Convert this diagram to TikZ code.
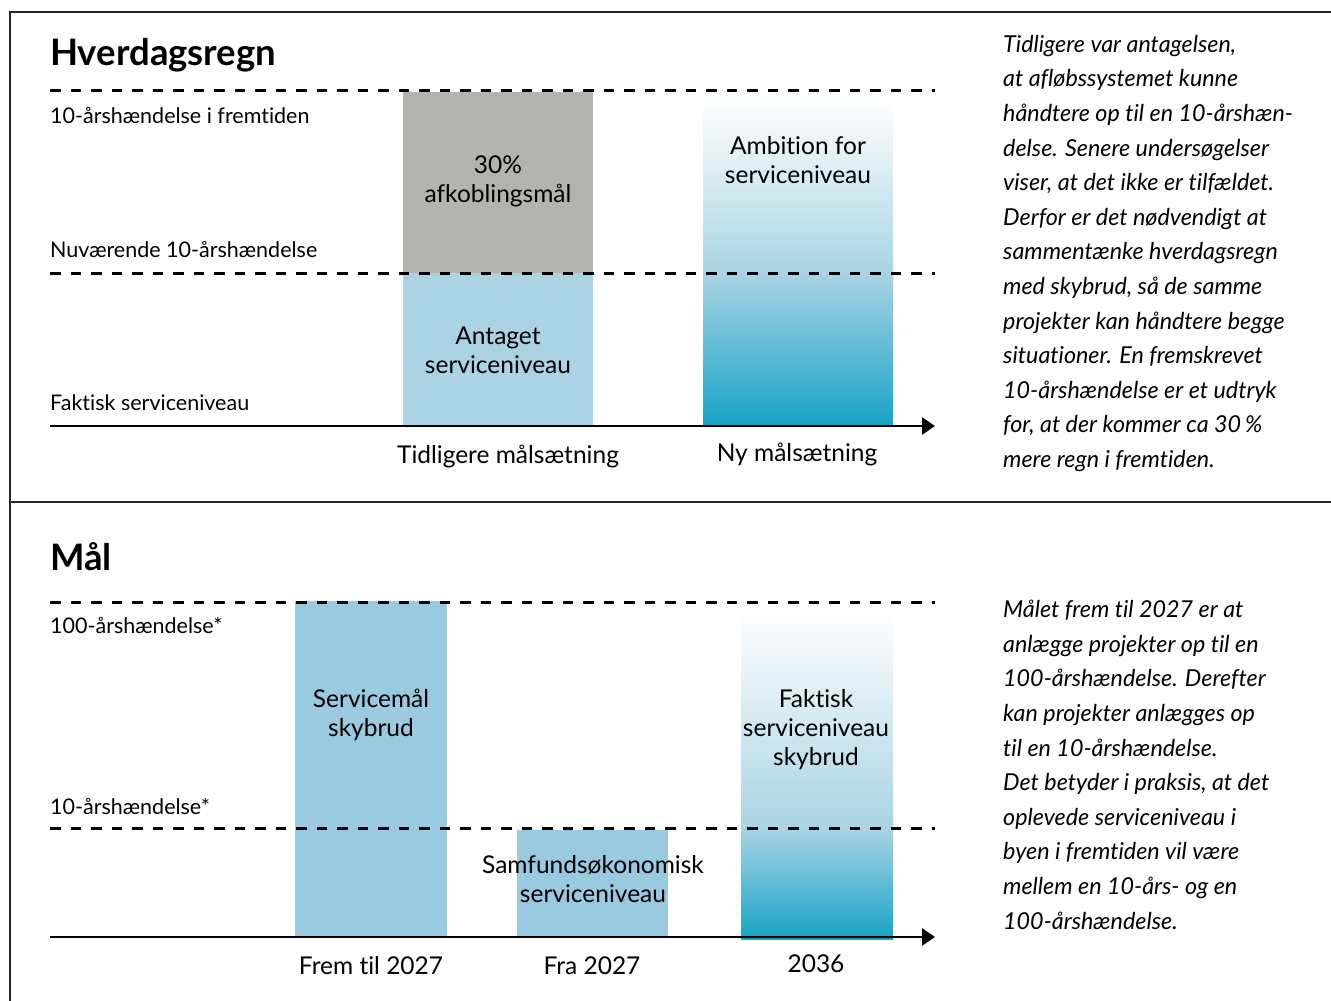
\documentclass[tikz,border=0pt]{standalone}
\usepackage{fontspec}
\setmainfont{Lato}[Ligatures=NoCommon]
\usetikzlibrary{arrows.meta}
\definecolor{barGray}{HTML}{B3B4AF}
\definecolor{barLight}{HTML}{ABD3E3}
\definecolor{barMid}{HTML}{99CADF}
\definecolor{barDeep}{HTML}{17A3C7}
\definecolor{gradMid}{HTML}{A9D4E4}
\tikzset{
  frame/.style={line width=1.6pt, draw=black!85},
  level/.style={line width=3pt, dash pattern=on 10.5pt off 10pt},
  axis/.style={line width=2.8pt, -{Triangle[length=13pt,width=17pt]}},
  lefttxt/.style={anchor=west, inner sep=0pt, font=\fontsize{21.5}{24}\selectfont},
  bartxt/.style={align=center, inner sep=0pt, font=\fontsize{24.5}{29}\selectfont},
  headtxt/.style={anchor=west, inner sep=0pt, font=\fontsize{36.5}{40}\bfseries\selectfont},
  sidetxt/.style={anchor=north west, align=left, inner sep=0pt, font=\fontsize{23.3}{34.6}\itshape\selectfont}
}
\begin{document}
\begin{tikzpicture}[x=1pt,y=-1pt]
\useasboundingbox (0,0) rectangle (1331,1001);
% frame
\coordinate (fTR) at (1331,12);
\coordinate (fTL) at (10,12);
\coordinate (fBL) at (10,1001);
\coordinate (fML) at (10,502);
\coordinate (fMR) at (1331,502);
\draw[frame] (fTR) -- (fTL) -- (fBL);
\draw[frame] (fML) -- (fMR);

%% ===== Top panel =====
\node[headtxt] (t1) at (50,55) {Hverdagsregn};
% bars
\fill[barGray] (403,92) rectangle (593,273);
\fill[barLight] (403,273) rectangle (593,426);
\shade[top color=white, bottom color=gradMid] (703,98) rectangle (893,273);
\shade[top color=gradMid, bottom color=barDeep] (703,273) rectangle (893,426);
% level lines
\coordinate (a1) at (50,90); \coordinate (a2) at (935,90);
\coordinate (b1) at (50,273); \coordinate (b2) at (935,273);
\coordinate (x1) at (50,426); \coordinate (x2) at (935,426);
\draw[level] (a1) -- (a2);
\draw[level] (b1) -- (b2);
\draw[axis] (x1) -- (x2);
% labels
\node[lefttxt] (l1) at (50,116) {10-årshændelse i fremtiden};
\node[lefttxt] (l2) at (50,250) {Nuværende 10-årshændelse};
\node[lefttxt] (l3) at (50,403) {Faktisk serviceniveau};
\node[bartxt] (g1) at (498,181) {30\%\\afkoblingsmål};
\node[bartxt] (g2) at (498,350) {Antaget\\serviceniveau};
\node[bartxt] (g3) at (798,160) {Ambition for\\serviceniveau};
\node[bartxt] (c1) at (508,457) {Tidligere målsætning};
\node[bartxt] (c2) at (797,455) {Ny målsætning};
\node[sidetxt] (s1) at (1003,35) {Tidligere var antagelsen,\\
at afløbssystemet kunne\\
håndtere op til en 10-årshæn-\\
delse. Senere undersøgelser\\
viser, at det ikke er tilfældet.\\
Derfor er det nødvendigt at\\
sammentænke hverdagsregn\\
med skybrud, så de samme\\
projekter kan håndtere begge\\
situationer. En fremskrevet\\
10-årshændelse er et udtryk\\
for, at der kommer ca 30\,\%\\
mere regn i fremtiden.};

%% ===== Bottom panel =====
\node[headtxt] (t2) at (50,557) {Mål};
\fill[barMid] (295,601) rectangle (447,937);
\fill[barMid] (517,830) rectangle (668,937);
\shade[top color=white, bottom color=gradMid] (741,610) rectangle (893,828);
\shade[top color=gradMid, bottom color=barDeep] (741,828) rectangle (893,939);
\coordinate (d1) at (50,602); \coordinate (d2) at (935,602);
\coordinate (e1) at (50,828); \coordinate (e2) at (935,828);
\coordinate (y1) at (50,937); \coordinate (y2) at (935,937);
\draw[level] (d1) -- (d2);
\draw[level] (e1) -- (e2);
\draw[axis] (y1) -- (y2);
\node[lefttxt] (m1) at (50,625) {100-årshændelse*};
\node[lefttxt] (m2) at (50,806) {10-årshændelse*};
\node[bartxt] (h1) at (371,715) {Servicemål\\skybrud};
\node[bartxt] (h2) at (593,879) {Samfundsøkonomisk\\serviceniveau};
\node[bartxt] (h3) at (816,730) {Faktisk\\serviceniveau\\skybrud};
\node[bartxt] (k1) at (371,966) {Frem til 2027};
\node[bartxt] (k2) at (592,966) {Fra 2027};
\node[bartxt] (k3) at (816,964) {2036};
\node[sidetxt] (s2) at (1003,600) {Målet frem til 2027 er at\\
anlægge projekter op til en\\
100-årshændelse. Derefter\\
kan projekter anlægges op\\
til en 10-årshændelse.\\
Det betyder i praksis, at det\\
oplevede serviceniveau i\\
byen i fremtiden vil være\\
mellem en 10-års- og en\\
100-årshændelse.};
\end{tikzpicture}
\end{document}
